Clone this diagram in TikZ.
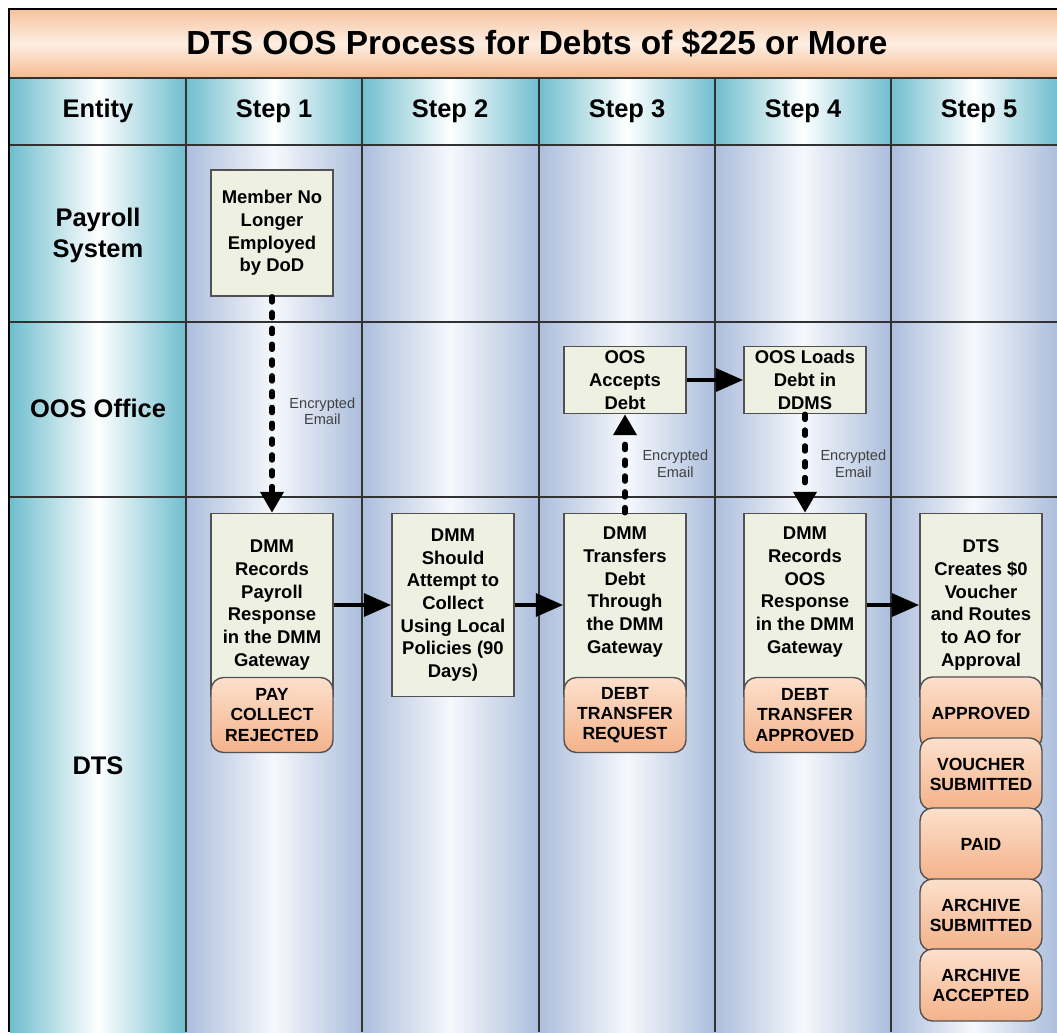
\documentclass[tikz,border=0pt]{standalone}
\usepackage{fontspec}
\setmainfont{Liberation Sans}
\usetikzlibrary{arrows.meta,positioning}

\definecolor{tealedge}{RGB}{112,190,206}
\definecolor{laneedge}{RGB}{172,190,220}
\definecolor{lanemid}{RGB}{246,248,252}
\definecolor{boxfill}{RGB}{238,241,226}
\definecolor{statustop}{RGB}{252,224,204}
\definecolor{statusbot}{RGB}{244,178,138}
\definecolor{titletop}{RGB}{247,196,160}
\definecolor{titlemid}{RGB}{253,238,226}
\definecolor{titlebot}{RGB}{246,186,142}
\definecolor{gridline}{RGB}{50,50,50}

\tikzset{
  headcell/.style={left color=tealedge, right color=tealedge, middle color=white},
  lanecell/.style={left color=laneedge, right color=laneedge, middle color=lanemid},
  grid/.style={draw=gridline, line width=0.8pt},
  heading/.style={font=\fontsize{14.5}{17.6}\selectfont\bfseries, align=center},
  stepbox/.style={draw=gridline!85, fill=boxfill, line width=0.8pt, align=center,
    font=\fontsize{10.5}{12.9}\selectfont\bfseries, minimum width=2.44cm, inner sep=1pt},
  statusbox/.style={draw=gridline!85, top color=statustop, bottom color=statusbot,
    rounded corners=0.25cm, line width=0.8pt, align=center,
    font=\fontsize{10}{11.4}\selectfont\bfseries, minimum width=2.44cm, minimum height=1.5cm},
  flow/.style={line width=2.8pt, -{Triangle[length=0.55cm,width=0.45cm]}},
  mail/.style={line width=3pt, line cap=round, dash pattern=on 3pt off 6pt,
    -{Triangle[length=0.42cm,width=0.45cm]}},
  mailtext/.style={font=\fontsize{8.3}{9.6}\selectfont, text=black!75, align=center}
}

\begin{document}
\begin{tikzpicture}[x=0.02cm, y=-0.02cm]

    %% Background
    \useasboundingbox (0,0) rectangle (1057,1032);

    % Title band
    \fill[top color=titletop, bottom color=titlebot, middle color=titlemid] (10,10) rectangle (1057,78);
    \node[font=\fontsize{19}{22}\selectfont\bfseries] (title) at (537,43) {DTS OOS Process for Debts of \$225 or More};

    % Columns
    \fill[headcell] (10,78) rectangle (186,145);
    \fill[headcell] (10,145) rectangle (186,1032);
    \foreach \xa/\xb in {186/362,362/539,539/715,715/891,891/1057}
    {
    \fill[headcell] (\xa,78) rectangle (\xb,145);
    \fill[lanecell] (\xa,145) rectangle (\xb,1032);
    }

    % Grid
    \foreach \y in {78,145,322,497}
    {
    \draw[grid] (10,\y) to (1057,\y);
    }
    \foreach \x in {186,362,539,715,891}
    {
    \draw[grid] (\x,78) to (\x,1032);
    }
    \draw[line width=1.7pt] (9,1032) -- (9,9) -- (1057,9);

    % Headings
    \node[heading] (entity) at (98,111) {Entity};
    \foreach \x/\i in {274/1,450/2,627/3,803/4,979/5}
    {
    \node[heading] (step\i) at (\x,111) {Step \i};
    }
    \node[heading] (payroll) at (98,235) {Payroll\\System};
    \node[heading] (oosoffice) at (98,408) {OOS Office};
    \node[heading] (dts) at (98,766) {DTS};

    % Process boxes
    \node[stepbox, minimum height=2.52cm] (member) at (272,233) {Member No\\Longer\\Employed\\by DoD};
    \node[stepbox, minimum height=1.34cm] (accepts) at (625,380) {OOS\\Accepts\\Debt};
    \node[stepbox, minimum height=1.34cm] (loads) at (805,380) {OOS Loads\\Debt in\\DDMS};
    \node[stepbox, minimum height=3.66cm] (recpay) at (272,605) {DMM\\Records\\Payroll\\Response\\in the DMM\\Gateway};
    \node[stepbox, minimum height=3.66cm] (collect) at (453,605) {DMM\\Should\\Attempt to\\Collect\\Using Local\\Policies (90\\Days)};
    \node[stepbox, minimum height=3.66cm] (transfer) at (625,605) {DMM\\Transfers\\Debt\\Through\\the DMM\\Gateway\\\strut};
    \node[stepbox, minimum height=3.66cm] (recoos) at (805,605) {DMM\\Records\\OOS\\Response\\in the DMM\\Gateway\\\strut};
    \node[stepbox, minimum height=3.66cm] (creates) at (981,605) {DTS\\Creates \$0\\Voucher\\and Routes\\to AO for\\Approval};

    % Status
    \node[statusbox] (rejected) at (272,715) {PAY\\COLLECT\\REJECTED};
    \node[statusbox] (request) at (625,715) {DEBT\\TRANSFER\\REQUEST};
    \node[statusbox] (approved) at (805,715) {DEBT\\TRANSFER\\APPROVED};
    \foreach \y/\name/\txt in {713/aoapproved/{APPROVED},
        774/vsubmitted/{VOUCHER\\SUBMITTED},
        844/paid/{PAID},
        915/asubmitted/{ARCHIVE\\SUBMITTED},
        985/aaccepted/{ARCHIVE\\ACCEPTED}}
    {
    \node[statusbox, minimum height=1.44cm] (\name) at (981,\y) {\txt};
    }

    % Flow
    \draw[flow] (recpay.east) -- (collect.west);
    \draw[flow] (collect.east) -- (transfer.west);
    \draw[flow] (recoos.east) -- (creates.west);
    \draw[flow] (accepts.east) -- (loads.west);

    % Encrypted email
    \draw[mail] (member.south) -- node[mailtext, pos=0.53, right=0.18cm] (mail1) {Encrypted\\Email} (recpay.north);
    \draw[mail] (transfer.north) -- node[mailtext, pos=0.5, right=0.18cm] (mail2) {Encrypted\\Email} (accepts.south);
    \draw[mail] (loads.south) -- node[mailtext, pos=0.5, right=0.14cm] (mail3) {Encrypted\\Email} (recoos.north);

\end{tikzpicture}
\end{document}
